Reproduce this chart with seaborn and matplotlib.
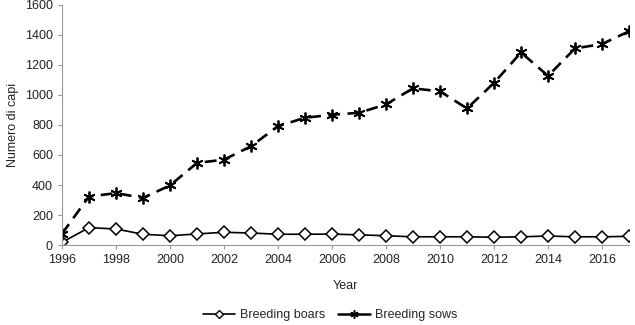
import matplotlib
matplotlib.use("Agg")
import matplotlib.pyplot as plt
from matplotlib.lines import Line2D
import seaborn as sns
import pandas as pd

years = list(range(1996, 2018))
boars = [18, 116, 107, 72, 62, 74, 85, 80, 72, 72, 73, 68, 62, 55, 55, 55, 52, 55, 60, 55, 55, 58]
sows = [75, 323, 346, 314, 397, 547, 569, 658, 792, 848, 868, 881, 937, 1044, 1024, 910, 1080, 1283, 1127, 1310, 1339, 1424]
series_names = ["Breeding boars", "Breeding sows"]

sns.set_theme(style="white")
plt.rcParams["font.family"] = ["Liberation Sans", "DejaVu Sans"]

df = pd.DataFrame({
    "Year": years * 2,
    "value": boars + sows,
    "series": [series_names[0]] * len(years) + [series_names[1]] * len(years),
})

fig = plt.figure(figsize=(6.35, 3.25), dpi=100)
ax = fig.add_axes([0.0976, 0.246, 0.893, 0.739])

sns.lineplot(data=df[df.series == series_names[0]], x="Year", y="value", ax=ax,
             color="black", lw=1.2, marker="D", markersize=6.5,
             markerfacecolor="white", markeredgecolor="black", markeredgewidth=1.1)
sns.lineplot(data=df[df.series == series_names[1]], x="Year", y="value", ax=ax,
             color="black", lw=1.9, marker=(6, 2, 0), markersize=8.5,
             markeredgecolor="black", markeredgewidth=1.3)
ax.lines[-1].set_linestyle((0, (4.5, 2.8)))

ax.set_xlim(1996, 2017)
ax.set_ylim(0, 1600)
ax.set_xticks(list(range(1996, 2017, 2)))
ax.set_yticks(list(range(0, 1601, 200)))
ax.set_xlabel("Year", fontsize=9, color="#222222", labelpad=10)
ax.set_ylabel("Numero di capi", fontsize=9, color="#222222", labelpad=4)
ax.tick_params(axis="both", labelsize=9, length=3, width=0.8,
               direction="out", bottom=True, left=True,
               colors="#999999", labelcolor="#222222")
for s in ["top", "right"]:
    ax.spines[s].set_visible(False)
for s in ["left", "bottom"]:
    ax.spines[s].set_color("#999999")
    ax.spines[s].set_linewidth(0.8)

handles = [
    Line2D([], [], color="black", lw=1.2, marker="D", markersize=4.5,
           markerfacecolor="white", markeredgecolor="black", markeredgewidth=1.0),
    Line2D([], [], color="black", lw=1.8, marker=(6, 2, 0), markersize=6,
           markeredgecolor="black", markeredgewidth=1.1),
]
fig.legend(handles, series_names, loc="center", bbox_to_anchor=(0.52, 0.03), ncol=2,
           frameon=False, fontsize=9, handlelength=2.6, columnspacing=1.0,
           handletextpad=0.4)

fig.savefig("out.png", dpi=100)
